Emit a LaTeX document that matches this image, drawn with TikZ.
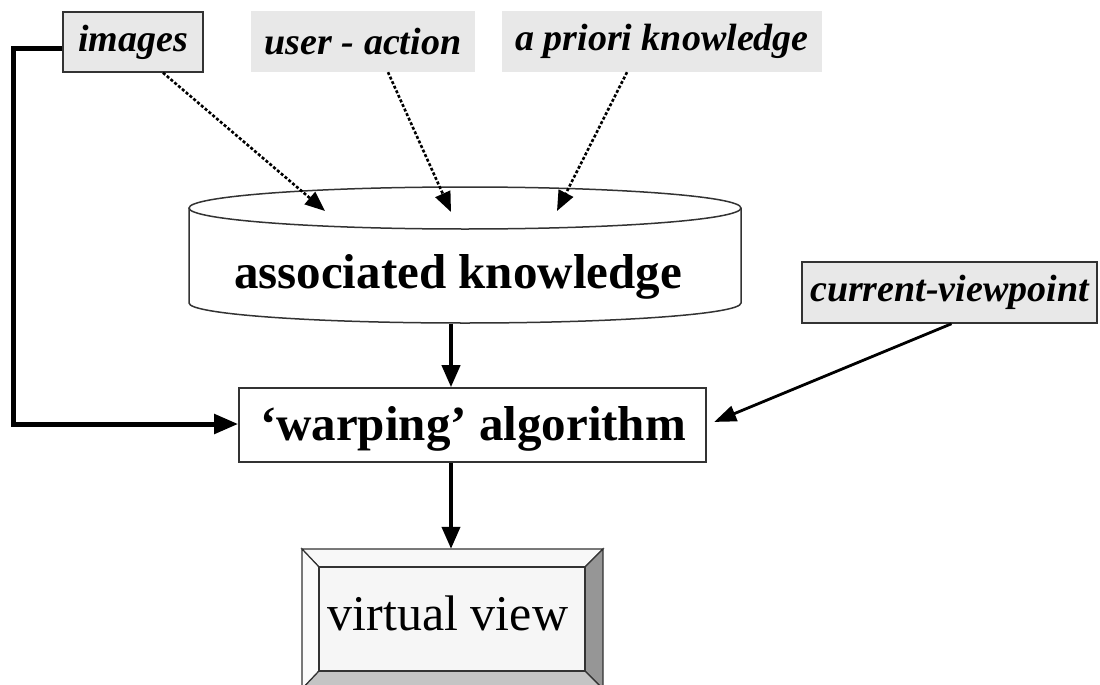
\documentclass[tikz,border=0pt]{standalone}
\usepackage{fontspec}
\setmainfont{Liberation Serif}
\usetikzlibrary{arrows.meta}
\definecolor{lblgray}{HTML}{E8E8E8}
\definecolor{edge}{HTML}{333333}
\definecolor{bevtop}{HTML}{F8F8F8}
\definecolor{bevleft}{HTML}{FBFBFB}
\definecolor{bevright}{HTML}{969696}
\definecolor{bevbot}{HTML}{C4C4C4}
\definecolor{bevface}{HTML}{F6F6F6}
\tikzset{
  lbl/.style={fill=lblgray, inner sep=0pt, font=\fontsize{38}{40}\selectfont\bfseries\itshape},
  lblbox/.style={lbl, draw=edge, line width=1.5pt},
  bigtxt/.style={font=\fontsize{49}{52}\selectfont\bfseries, inner sep=0pt},
  dotarrow/.style={line width=2.6pt, dash pattern=on 3pt off 2pt, -{Triangle[length=20pt,width=16pt]}},
  flowarrow/.style={line width=4pt, -{Triangle[length=22pt,width=18pt]}},
  thinarrow/.style={line width=2.8pt, -{Triangle[length=22pt,width=16pt]}},
  bevel/.style={draw=edge, line width=1.2pt}
}
\begin{document}
\begin{tikzpicture}[x=1pt,y=-1pt]
\useasboundingbox (0,0) rectangle (1100,685);
% top labels
\node[lblbox, minimum width=140pt, minimum height=60pt] (images) at (133,42) {images};
\node[lbl, minimum width=224pt, minimum height=61pt] (user) at (363,41.5) {user - action};
\node[lbl, minimum width=320pt, minimum height=61pt] (apriori) at (662,41.5) {a priori knowledge};
\node[lblbox, minimum width=295pt, minimum height=61pt] (cvp) at (949.5,292.5) {current-viewpoint};
% cylinder
\draw[edge, line width=1.5pt, fill=white]
  (189,208) -- (189,303) arc[start angle=180, end angle=0, x radius=276, y radius=20]
  -- (741,208);
\draw[edge, line width=1.5pt, fill=white] (465,208) ellipse[x radius=276, y radius=21];
\node[bigtxt, minimum width=552pt, minimum height=136pt] (ak) at (465,255.5) {};
\node[bigtxt, anchor=base] (aktext) at (458,288) {associated knowledge};
\coordinate (t1) at (325,211);
\coordinate (t2) at (451,212);
\coordinate (t3) at (557,211);
% warping
\node[bigtxt, draw=edge, line width=1.6pt, minimum width=467pt, minimum height=74pt, fill=white] (warp) at (472.5,425) {};
\node[bigtxt, anchor=base] (warptext) at (473,440) {`warping' algorithm};
% virtual view
\draw[bevel, fill=bevtop] (302,549) -- (603,549) -- (585,567) -- (319,567) -- cycle;
\draw[bevel, fill=bevleft] (302,549) -- (319,567) -- (319,671) -- (302,689) -- cycle;
\draw[bevel, fill=bevright] (603,549) -- (603,689) -- (585,671) -- (585,567) -- cycle;
\draw[bevel, fill=bevbot] (302,689) -- (319,671) -- (585,671) -- (603,689) -- cycle;
\node[draw=edge, line width=1.2pt, fill=bevface, minimum width=266pt, minimum height=104pt, inner sep=0pt] (vv) at (452,619) {};
\node[font=\fontsize{50}{52}\selectfont, inner sep=0pt, anchor=base] (vvtext) at (448,630) {virtual view};
\node[minimum width=301pt, minimum height=140pt, inner sep=0pt] (vvout) at (452.5,619) {};
% connectors
\draw[dotarrow] ([xshift=30pt]images.south) -- (t1);
\draw[dotarrow] ([xshift=25pt]user.south) -- (t2);
\draw[dotarrow] ([xshift=-35pt]apriori.south) -- (t3);
\draw[flowarrow] (ak.south -| 451,0) -- (warp.north -| 451,0);
\draw[flowarrow] (warp.south -| 451,0) -- (vvout.north -| 451,0);
\draw[line width=5pt, -{Triangle[length=24pt,width=19pt]}]
  (images.west |- 0,49) -- (13,49) -- (13,424) -- (warp.west |- 0,424);
\draw[thinarrow, shorten >=8pt] ([xshift=2pt]cvp.south) -- (warp.east);
\end{tikzpicture}
\end{document}
